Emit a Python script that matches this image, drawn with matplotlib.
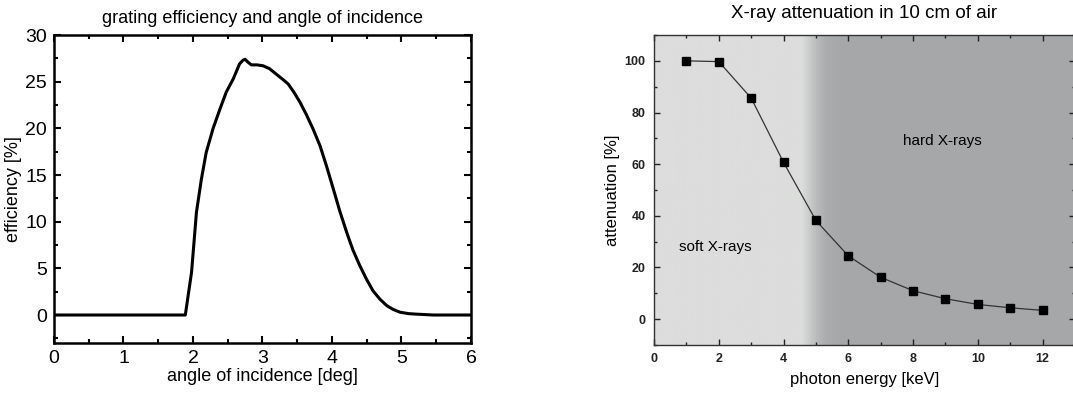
import numpy as np
import matplotlib
matplotlib.use('Agg')
import matplotlib.pyplot as plt
from matplotlib.ticker import MultipleLocator
from matplotlib.colors import LinearSegmentedColormap

plt.rcParams['font.family'] = ['Liberation Sans', 'DejaVu Sans']

# grating efficiency vs angle of incidence
angle = [0.0, 1.0, 1.89, 1.98, 2.05, 2.12, 2.19, 2.29, 2.39, 2.48, 2.58, 2.67,
         2.72, 2.75, 2.79, 2.84, 2.92, 3.01, 3.1, 3.2, 3.3, 3.37, 3.45, 3.54,
         3.63, 3.73, 3.83, 3.92, 4.02, 4.11, 4.21, 4.3, 4.4, 4.5, 4.59, 4.69,
         4.79, 4.88, 4.98, 5.1, 5.2, 5.46, 6.0]
efficiency = [0.0, 0.0, 0.0, 4.6, 11.0, 14.5, 17.4, 20.0, 22.1, 23.9, 25.3, 26.9,
              27.3, 27.4, 27.1, 26.8, 26.8, 26.7, 26.4, 25.8, 25.2, 24.75, 23.9, 22.8,
              21.5, 19.9, 18.1, 16.0, 13.5, 11.2, 8.9, 7.0, 5.3, 3.8, 2.6, 1.7,
              1.0, 0.6, 0.3, 0.15, 0.1, 0.0, 0.0]

# X-ray attenuation in 10 cm of air
energy = [1, 2, 3, 4, 5, 6, 7, 8, 9, 10, 11, 12]
attenuation = [100, 99.7, 85.6, 60.7, 38.2, 24.5, 16.2, 11.0, 7.9, 5.7, 4.4, 3.4]

fig = plt.figure(figsize=(10.73, 3.96), dpi=100)

# ---- left panel
ax1 = fig.add_axes([0.0503, 0.1338, 0.3886, 0.7778])
ax1.plot(angle, efficiency, color='black', lw=2.2)
ax1.set_xlim(0, 6)
ax1.set_ylim(-3, 30)
ax1.xaxis.set_major_locator(MultipleLocator(1))
ax1.xaxis.set_minor_locator(MultipleLocator(0.5))
ax1.yaxis.set_major_locator(MultipleLocator(5))
ax1.yaxis.set_minor_locator(MultipleLocator(2.5))
ax1.tick_params(which='both', direction='in', top=True, right=True, width=1.5,
                labelsize=14, pad=5)
ax1.tick_params(which='major', length=5)
ax1.tick_params(which='minor', length=3)
for s in ax1.spines.values():
    s.set_linewidth(1.8)
ax1.set_xlabel('angle of incidence [deg]', fontsize=13, labelpad=1)
ax1.set_ylabel('efficiency [%]', fontsize=13, labelpad=2)
ax1.set_title('grating efficiency and angle of incidence', fontsize=13, pad=9)

# ---- right panel
ax2 = fig.add_axes([0.6095, 0.1288, 0.3924, 0.7828])
cmap = LinearSegmentedColormap.from_list(
    'bg', [(0, '#dcdddc'), (4.55 / 13, '#dcdddc'), (4.9 / 13, '#c0c2c2'),
           (5.3 / 13, '#aaacad'), (5.8 / 13, '#a5a7a8'), (1, '#a6a8a9')])
ax2.imshow(np.linspace(0, 1, 500)[None, :], cmap=cmap, aspect='auto',
           extent=[0, 13, -10, 110], zorder=0)
ax2.plot(energy, attenuation, color='#333333', lw=0.9, marker='s',
         markersize=5.5, markerfacecolor='black', markeredgecolor='black')
ax2.set_xlim(0, 13)
ax2.set_ylim(-10, 110)
ax2.xaxis.set_major_locator(MultipleLocator(2))
ax2.xaxis.set_minor_locator(MultipleLocator(1))
ax2.yaxis.set_major_locator(MultipleLocator(20))
ax2.yaxis.set_minor_locator(MultipleLocator(10))
ax2.tick_params(which='both', direction='in', top=True, right=True, width=1.0,
                labelsize=9, colors='#222222', pad=6)
ax2.tick_params(which='major', length=4)
ax2.tick_params(which='minor', length=2.5)
for lab in ax2.get_xticklabels() + ax2.get_yticklabels():
    lab.set_fontweight('bold')
for s in ax2.spines.values():
    s.set_linewidth(1.0)
    s.set_color('#333333')
ax2.set_xlabel('photon energy [keV]', fontsize=12, labelpad=5)
ax2.set_ylabel('attenuation [%]', fontsize=12, labelpad=3)
ax2.set_title('X-ray attenuation in 10 cm of air', fontsize=13.5, pad=12)
ax2.text(1.9, 28, 'soft X-rays', fontsize=11, ha='center', va='center')
ax2.text(8.9, 69, 'hard X-rays', fontsize=11, ha='center', va='center')

fig.savefig('out.png', dpi=100)
